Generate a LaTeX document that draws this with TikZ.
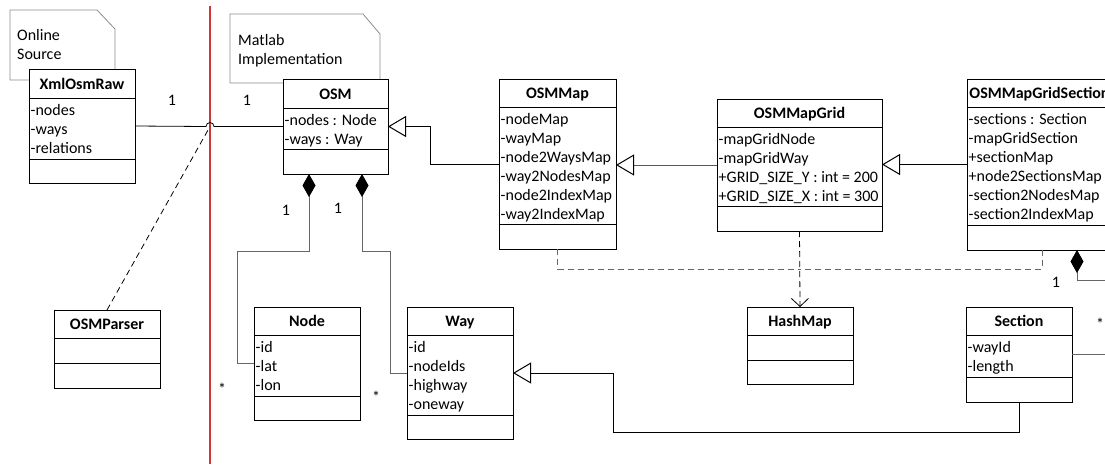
\documentclass[tikz,border=0pt]{standalone}
\usepackage{fontspec}
\setmainfont{Carlito}
\usetikzlibrary{arrows.meta}
\definecolor{divred}{RGB}{205,55,55}
\newcommand\umlfont{\fontsize{16}{19}\selectfont}
\tikzset{
  box/.style={draw, line width=1pt, fill=white, inner sep=0pt, outer sep=0pt, anchor=north west},
  sepline/.style={line width=1pt},
  ttl/.style={font=\umlfont\bfseries, anchor=base, inner sep=0pt},
  attrs/.style={align=left, anchor=north west, inner xsep=1.5pt, inner ysep=3.5pt},
  note/.style={draw=black!45, line width=0.8pt, fill=white},
  notetext/.style={align=left, anchor=north west, inner sep=0pt},
  assoc/.style={line width=0.8pt},
  inherit/.style={line width=0.8pt, -{Triangle[open, length=18pt, width=21pt, line width=1pt, color=black]}},
  compose/.style={line width=0.8pt, draw=black!60, {Diamond[length=23pt, width=13pt, color=black]}-},
  depend/.style={line width=0.8pt, dash pattern=on 6pt off 4pt},
  mult/.style={inner sep=0pt},
  divider/.style={draw=divred, line width=1.2pt}
}
% #1 name, #2 left, #3 right, #4 top, #5 header bottom, #6 attribute bottom, #7 bottom, #8 title, #9 attributes
\newcommand\umlclass[9]{%
  \node[box, minimum width={(#3-#2)*1pt}, minimum height={(#7-#4)*1pt}] (#1) at (#2,#4) {};
  \draw[sepline] (#2,#5) -- (#3,#5) (#2,#6) -- (#3,#6);
  \node[ttl] (#1-title) at ({(#2+#3)/2},{(#4+#5)/2+5.5}) {#8};
  \node[attrs] (#1-attrs) at (#2,#5) {#9};
}
\begin{document}
\begin{tikzpicture}[x=1pt, y=-1pt, font=\umlfont]
\useasboundingbox (0,0) rectangle (1105,464);

% notes
\draw[note] (10,10) -- (97,10) -- (115,29) -- (115,80) -- (10,80) -- cycle;
\node[notetext] (online) at (17,29) {Online\\Source};
\draw[note] (230,14) -- (363,14) -- (380,34) -- (380,83) -- (230,83) -- cycle;
\node[notetext] (matlab) at (238,34) {Matlab\\Implementation};

% divider between source and implementation
\draw[divider] (210,6) -- (210,464);

% classes
\umlclass{XmlOsmRaw}{29}{135}{69}{98}{159}{183}{XmlOsmRaw}{\strut-nodes\\\strut-ways\\\strut-relations}
\umlclass{OSMParser}{54}{160}{310}{338}{363}{388}{OSMParser}{}
\umlclass{OSM}{283}{388}{79}{108}{149}{174}{OSM}{\strut-nodes : Node\\\strut-ways : Way}
\umlclass{Node}{254}{360}{307}{335}{396}{420}{Node}{\strut-id\\\strut-lat\\\strut-lon}
\umlclass{Way}{407}{513}{307}{335}{415}{439}{Way}{\strut-id\\\strut-nodeIds\\\strut-highway\\\strut-oneway}
\umlclass{OSMMap}{499}{616}{79}{107}{224}{249}{OSMMap}{\strut-nodeMap\\\strut-wayMap\\\strut-node2WaysMap\\\strut-way2NodesMap\\\strut-node2IndexMap\\\strut-way2IndexMap}
\umlclass{OSMMapGrid}{717}{882}{99}{127}{206}{231}{OSMMapGrid}{\strut-mapGridNode\\\strut-mapGridWay\\\strut+GRID\_SIZE\_Y : int = 200\\\strut+GRID\_SIZE\_X : int = 300}
\umlclass{OSMMapGridSection}{967}{1112}{79}{107}{225}{250}{OSMMapGridSection}{\strut-sections : Section\\\strut-mapGridSection\\\strut+sectionMap\\\strut+node2SectionsMap\\\strut-section2NodesMap\\\strut-section2IndexMap}
\umlclass{HashMap}{747}{853}{307}{335}{360}{384}{HashMap}{}
\umlclass{Section}{966}{1072}{307}{335}{377}{402}{Section}{\strut-wayId\\\strut-length}

% association across the divider, with a hop
\coordinate (hop) at (210,126.5);
\draw[assoc] (XmlOsmRaw.east) -- (206,126.5) arc[start angle=180, end angle=360, radius=4] -- (OSM.west);
\draw[depend] (OSMParser.north) -- (hop);
\node[mult] (m1) at (172,100) {1};
\node[mult] (m2) at (247,100) {1};

% generalisations
\draw[inherit] (OSMMap.west) -- ++(-69,0) |- (OSM.east);
\draw[inherit, draw=black!65] (OSMMapGrid.west) -- (OSMMapGrid.west -| OSMMap.east);
\draw[inherit] (OSMMapGridSection.west) -- (OSMMapGridSection.west -| OSMMapGrid.east);
\draw[inherit] (Section.south) -- ++(0,30) -- ++(-406,0) |- (Way.east);

% compositions
\draw[compose] ([xshift=-26.5pt]OSM.south) |- (237,251) |- (Node.west);
\draw[compose] ([xshift=26.5pt]OSM.south) |- (390,251) |- (Way.west);
\draw[compose] ([xshift=37.5pt]OSMMapGridSection.south) |- (1120,280) |- (Section.east);
\node[mult] (m3) at (286,210) {1};
\node[mult] (m4) at (338,208) {1};
\node[mult] (m5) at (222,389) {*};
\node[mult] (m6) at (376,397) {*};
\node[mult] (m7) at (1056,282) {1};
\node[mult] (m8) at (1100,324) {*};

% dependencies on HashMap
\coordinate (join) at (799.5,269);
\draw[depend, draw=black!60] (OSMMap.south) |- (join);
\draw[depend, draw=black!60] ([xshift=2.5pt]OSMMapGridSection.south) |- (join);
\draw[depend, -{Straight Barb[length=8pt, width=17pt, line width=0.8pt]}] (OSMMapGrid.south) -- (HashMap.north);
\end{tikzpicture}
\end{document}
